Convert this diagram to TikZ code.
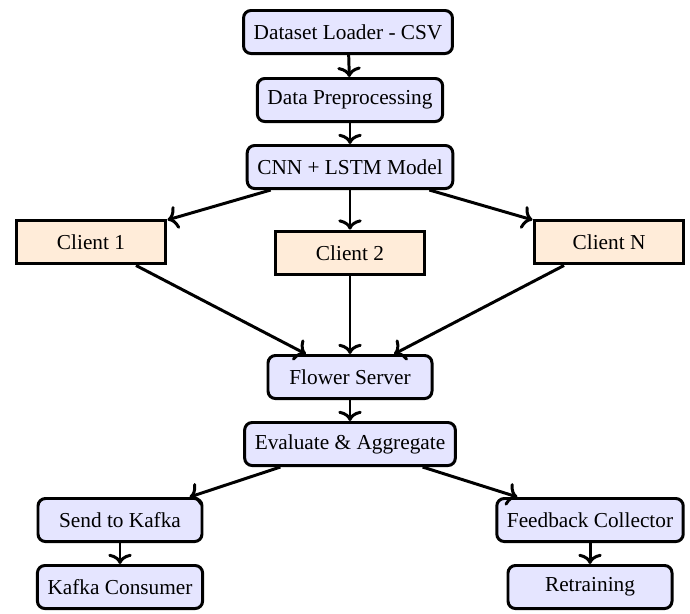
\documentclass[tikz,border=0pt]{standalone}
\usepackage{fontspec}
\setmainfont{Liberation Serif}
\usetikzlibrary{positioning,arrows.meta}

\begin{document}
\begin{tikzpicture}[x=0.4695pt, y=-0.4695pt,
        stage/.style={rectangle, draw, line width=1.4pt, rounded corners=3.5pt, fill=blue!10,
            minimum width=77pt, minimum height=20.2pt, inner xsep=4.75pt},
        client/.style={rectangle, draw, line width=1.4pt, fill=orange!15,
            minimum width=70.4pt, minimum height=20.6pt},
        flow/.style={-{To[length=4.8pt,width=11pt]}, line width=1.4pt}]
        \useasboundingbox (0,0) rectangle (690,613);
        \node[stage] (loader) at (348,32) {Dataset Loader - CSV};
        \node[stage] (prep) at (350,100) {Data Preprocessing};
        \node[stage] (model) at (350,167) {CNN + LSTM Model};
        \node[client] (client1) at (91,242) {Client 1};
        \node[client] (client2) at (350,253) {Client 2};
        \node[client] (clientN) at (609,242) {Client N};
        \node[stage] (server) at (350,377) {Flower Server};
        \node[stage] (eval) at (350,444) {Evaluate \& Aggregate};
        \node[stage] (kafka) at (120,520) {Send to Kafka};
        \node[stage] (consumer) at (120,587) {Kafka Consumer};
        \node[stage] (feedback) at (590,520) {Feedback Collector};
        \node[stage] (retrain) at (590,587) {Retraining};

        \draw [flow] (loader) -- (prep);
        \draw [flow] (prep) -- (model);
        \draw [flow] (model) -- (client1);
        \draw [flow] (model) -- (client2);
        \draw [flow] (model) -- (clientN);
        \draw [flow] (client1) -- (server);
        \draw [flow] (client2) -- (server);
        \draw [flow] (clientN) -- (server);
        \draw [flow] (server) -- (eval);
        \draw [flow] (eval) -- (kafka);
        \draw [flow] (eval) -- (feedback);
        \draw [flow] (kafka) -- (consumer);
        \draw [flow] (feedback) -- (retrain);
    \end{tikzpicture}
\end{document}
